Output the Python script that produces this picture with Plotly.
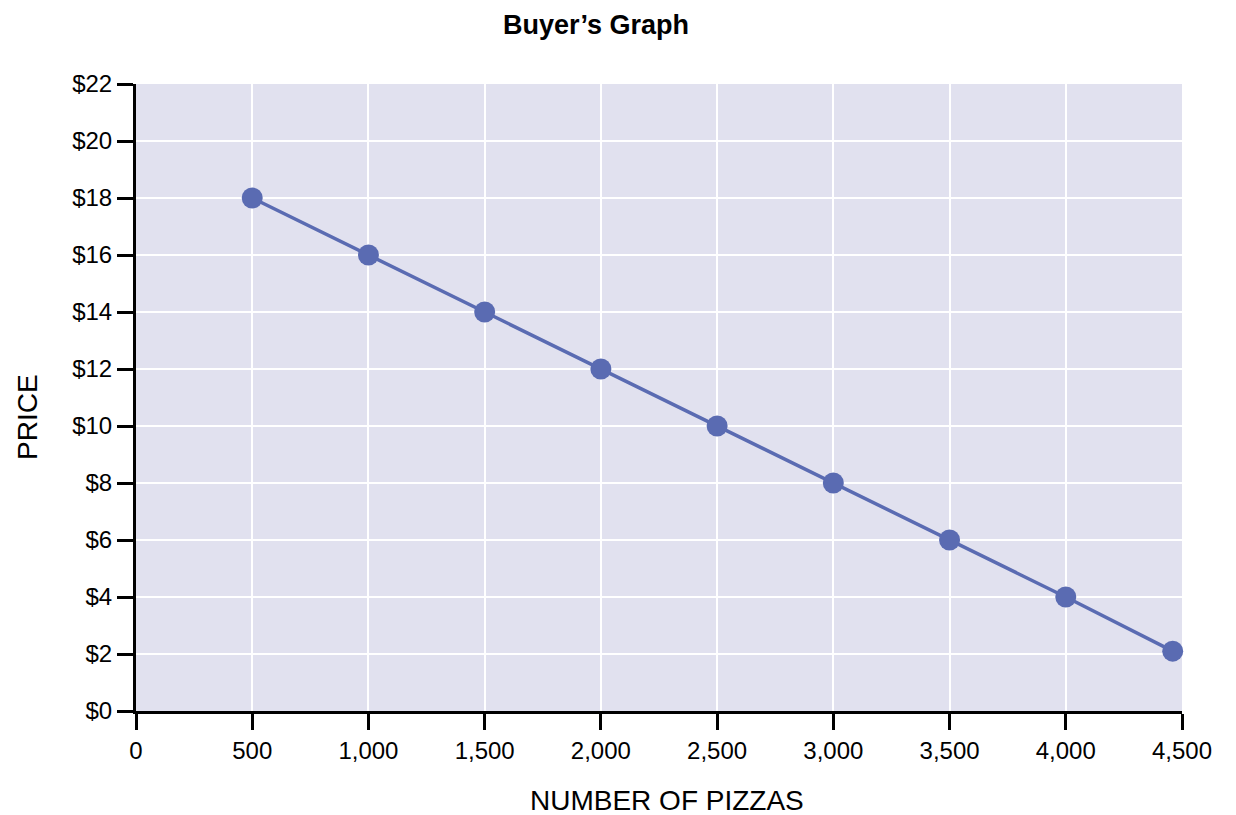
import plotly.graph_objects as go

quantity = [500, 1000, 1500, 2000, 2500, 3000, 3500, 4000, 4460]
price = [18, 16, 14, 12, 10, 8, 6, 4, 2.1]

x_ticks = [0, 500, 1000, 1500, 2000, 2500, 3000, 3500, 4000, 4500]
x_labels = ["0", "500", "1,000", "1,500", "2,000", "2,500", "3,000", "3,500", "4,000", "4,500"]
y_ticks = [0, 2, 4, 6, 8, 10, 12, 14, 16, 18, 20, 22]
y_labels = ["$0", "$2", "$4", "$6", "$8", "$10", "$12", "$14", "$16", "$18", "$20", "$22"]

FONT = "Liberation Sans, Arial, Helvetica, sans-serif"

fig = go.Figure()
fig.add_trace(go.Scatter(
    x=quantity, y=price, mode="lines+markers",
    line=dict(color="#5a6bb2", width=3.5),
    marker=dict(color="#5a6bb2", size=21),
    cliponaxis=False, showlegend=False,
))

# page body has an 8px default margin, so shift margins accordingly
fig.update_layout(
    width=1236, height=815,
    margin=dict(l=128, r=62, t=76, b=112),
    paper_bgcolor="white", plot_bgcolor="#e1e1ef",
    font=dict(family=FONT, size=24, color="black"),
    title=dict(text="<b>Buyer’s Graph</b>", x=0.4398, xref="paper", xanchor="center",
               y=1 - 17 / 815, yanchor="middle",
               font=dict(family=FONT, size=27, color="black")),
    xaxis=dict(range=[0, 4500], tickmode="array", tickvals=x_ticks, ticktext=x_labels,
               showline=True, linecolor="black", linewidth=3,
               ticks="outside", ticklen=16, tickwidth=3, tickcolor="black",
               showgrid=True, gridcolor="white", gridwidth=2, zeroline=False,
               tickfont=dict(size=24)),
    yaxis=dict(range=[0, 22], tickmode="array", tickvals=y_ticks, ticktext=y_labels,
               showline=True, linecolor="black", linewidth=3,
               ticks="outside", ticklen=16, tickwidth=3, tickcolor="black",
               showgrid=True, gridcolor="white", gridwidth=2, zeroline=False,
               tickfont=dict(size=24)),
    annotations=[
        dict(text="NUMBER OF PIZZAS", xref="paper", yref="paper", x=(667 - 136) / 1046, y=-89 / 627,
             xanchor="center", yanchor="middle", showarrow=False, font=dict(size=28)),
        dict(text="PRICE", xref="paper", yref="paper", x=-108 / 1046, y=0.469, textangle=-90,
             xanchor="center", yanchor="middle", showarrow=False, font=dict(size=28)),
    ],
)

fig.write_html("out.html")
